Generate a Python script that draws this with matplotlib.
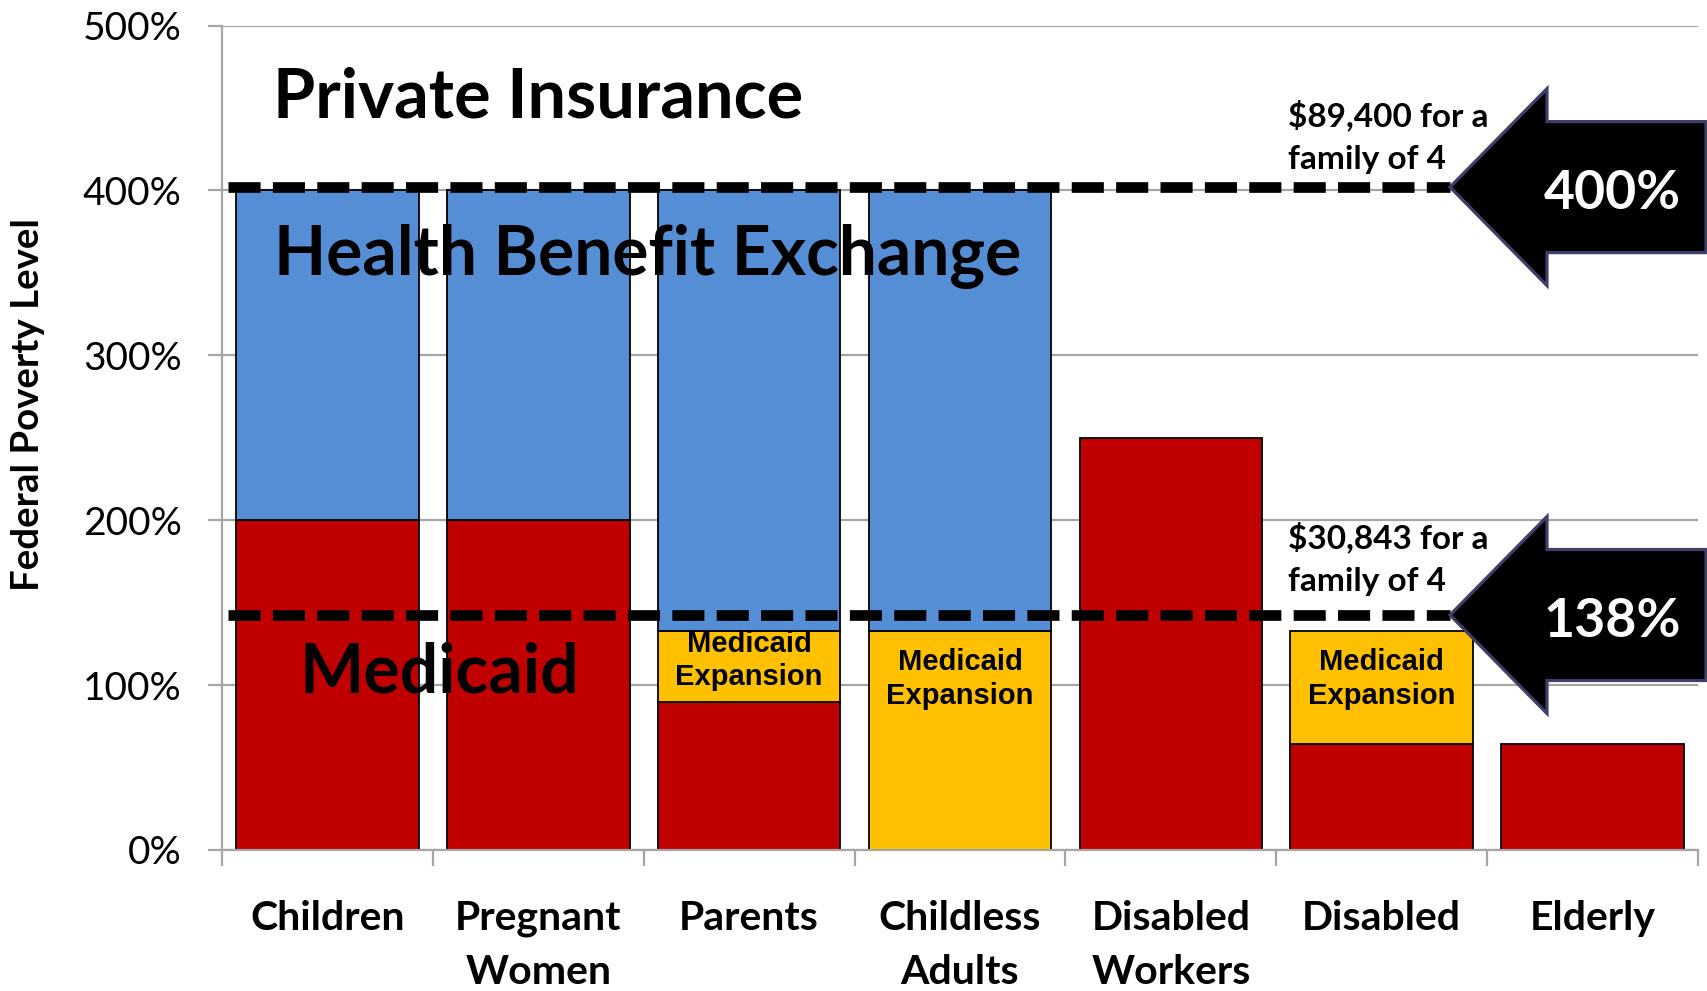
import matplotlib
matplotlib.use("Agg")
import matplotlib.pyplot as plt
from matplotlib.patches import Polygon
import numpy as np

# ---------------- data ----------------
categories = ["Children", "Pregnant\nWomen", "Parents", "Childless\nAdults",
              "Disabled\nWorkers", "Disabled", "Elderly"]
medicaid = [200, 200, 90, 0, 250, 64, 64]          # base Medicaid eligibility (% FPL)
expansion = [0, 0, 43, 133, 0, 69, 0]              # Medicaid expansion on top (to 133%)
exchange = [200, 200, 267, 267, 0, 0, 0]           # Health Benefit Exchange (to 400%)
expansion_label = ["", "", "Medicaid\nExpansion", "Medicaid\nExpansion", "",
                   "Medicaid\nExpansion", ""]
yticks = [0, 100, 200, 300, 400, 500]
ytick_labels = ["0%", "100%", "200%", "300%", "400%", "500%"]
threshold_labels = ["400%", "138%"]
threshold_lines = [402, 142.5]
threshold_income = [["$89,400 for a", "family of 4"], ["$30,843 for a", "family of 4"]]
region_labels = ["Private Insurance", "Health Benefit Exchange", "Medicaid"]

RED = "#C00000"
YELLOW = "#FFC000"
BLUE = "#558ED5"
GRID = "#A6A6A6"

W, H = 1707, 991
fig = plt.figure(figsize=(W / 100, H / 100), dpi=100)
ax = fig.add_axes([222 / W, 1 - 850 / H, (1698 - 222) / W, (850 - 25.5) / H])

PXY = 824.5 / 500.0      # pixels per percent
PXX = 1476 / 7.0         # pixels per category

def px_x(p):
    return -0.5 + (p - 222) / PXX

def px_y(p):
    return (850 - p) / PXY

x = np.arange(len(categories))
med = np.array(medicaid, float)
exp_ = np.array(expansion, float)
exc = np.array(exchange, float)
bw = 182.7 / PXX

def bars(vals, bottom, color):
    m = vals > 0
    ax.bar(x[m], vals[m], bw, bottom=bottom[m], color=color, edgecolor="black",
           linewidth=1.3, zorder=2)

bars(med, np.zeros_like(med), RED)
bars(exp_, med, YELLOW)
bars(exc, med + exp_, BLUE)

ax.set_xlim(-0.5, 6.5)
ax.set_ylim(0, 500)
ax.set_axisbelow(True)
ax.yaxis.grid(True, color=GRID, linewidth=1.6)
for s in ["top", "right"]:
    ax.spines[s].set_visible(False)
for s in ["left", "bottom"]:
    ax.spines[s].set_color(GRID)
    ax.spines[s].set_linewidth(1.6)

ax.set_yticks(yticks)
ax.set_yticklabels(ytick_labels, fontfamily="Lato", fontsize=28)
ax.tick_params(axis="y", length=10, width=1.6, color=GRID, pad=19)

ax.set_xticks(np.arange(-0.5, 7, 1.0))
ax.set_xticklabels([])
ax.tick_params(axis="x", which="major", length=11.5, width=1.6, color=GRID)
ax.set_xticks(x, minor=True)
ax.set_xticklabels(categories, minor=True, fontfamily="Lato", fontweight="bold",
                   fontsize=29.5, linespacing=1.55)
ax.tick_params(axis="x", which="minor", length=0, pad=36)

ylab = ax.set_ylabel("Federal Poverty Level", fontfamily="Lato", fontweight="bold",
                     fontsize=21, va="center")
ax.yaxis.set_label_coords((28 - 222) / 1476, (850 - 404.5) / 824.5)

# Medicaid Expansion labels inside yellow segments
exp_baselines = {2: 651.7, 3: 670.0, 5: 670.5}
for i, lab in enumerate(expansion_label):
    if not lab:
        continue
    for k, line in enumerate(lab.split("\n")):
        ax.text(x[i], px_y(exp_baselines[i] + k * 33.5), line, ha="center",
                va="baseline", fontfamily="Liberation Sans", fontweight="bold",
                fontsize=21, zorder=5)

# region labels
fig.canvas.draw()
r = fig.canvas.get_renderer()

def fit(t, target, vertical=False):
    bb = t.get_window_extent(r)
    size = bb.height if vertical else bb.width
    t.set_fontsize(t.get_fontsize() * target / size)

fit(ylab, 373, vertical=True)

t1 = ax.text(px_x(273), px_y(117), region_labels[0], ha="left", va="baseline",
             fontfamily="Lato", fontweight="bold", fontsize=44, zorder=6)
t2 = ax.text(px_x(274), px_y(275), region_labels[1], ha="left", va="baseline",
             fontfamily="Lato", fontweight="bold", fontsize=44, zorder=6)
t3 = ax.text(px_x(300), px_y(692.7), region_labels[2], ha="left", va="baseline",
             fontfamily="Lato", fontweight="bold", fontsize=44, zorder=6)
fit(t1, 530)
fit(t2, 747)
fit(t3, 280)

# threshold dashed lines and arrows
tip_x = px_x(1450)
head_x = px_x(1547)
right_x = px_x(1706)
head_h = 98.5 / PXY
shaft_h = 65.5 / PXY
income_base = [126.7, 548.0]
for L, lab, inc, ib in zip(threshold_lines, threshold_labels, threshold_income, income_base):
    ax.plot([px_x(228), tip_x], [L, L], color="black", linewidth=7.7,
            dashes=(3.0, 1.15), dash_capstyle="butt", zorder=4, clip_on=False)
    pts = [(tip_x, L), (head_x, L + head_h), (head_x, L + shaft_h),
           (right_x, L + shaft_h), (right_x, L - shaft_h), (head_x, L - shaft_h),
           (head_x, L - head_h)]
    ax.add_patch(Polygon(pts, closed=True, facecolor="black", edgecolor="#3F3F6A",
                         linewidth=2.3, joinstyle="miter", zorder=7, clip_on=False))
    tw = ax.text(px_x(1612), L - 13.5, lab, ha="center", va="baseline", color="white",
                 fontfamily="Lato", fontweight="bold", fontsize=38, zorder=8)
    fit(tw, 137)
    for k, line in enumerate(inc):
        ti = ax.text(px_x(1288), px_y(ib + k * 42.5), line, ha="left", va="baseline",
                     fontfamily="Lato", fontweight="bold", fontsize=24, zorder=6)

fig.savefig("out.png", dpi=100)
